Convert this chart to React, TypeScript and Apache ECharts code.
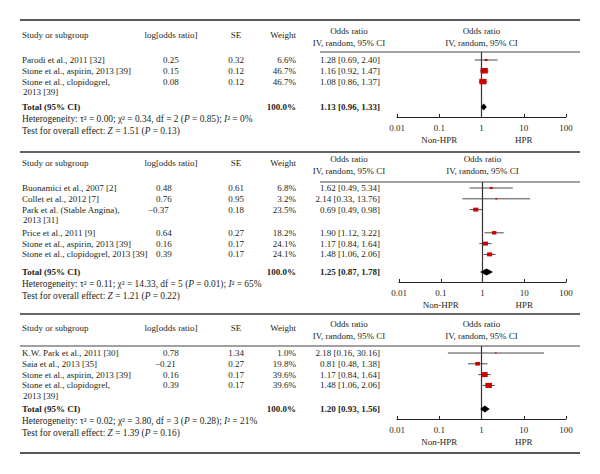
import React, { useEffect, useRef } from "react";
import * as echarts from "echarts";

const FONT = '"Liberation Serif", "Times New Roman", serif';
const FS = 9;
const FS_NOTE = 9.4;
const TEXT = "#231f20";
const RED = "#cc0000";

// ---------- Panel 1 ----------
const p1Names = ["Parodi et al., 2011 [32]", "Stone et al., aspirin, 2013 [39]", "Stone et al., clopidogrel,\n2013 [39]"];
const p1LogOR = [0.25, 0.15, 0.08];
const p1SE = [0.32, 0.12, 0.12];
const p1Weight = [6.6, 46.7, 46.7];
const p1OR = [1.28, 1.16, 1.08];
const p1Lower = [0.69, 0.92, 0.86];
const p1Upper = [2.4, 1.47, 1.37];
const p1Total = [1.13, 0.96, 1.33];
const p1Het = [0.0, 0.34, 2, 0.85, 0]; // tau2, chi2, df, P, I2
const p1Effect = [1.51, 0.13]; // Z, P

// ---------- Panel 2 ----------
const p2Names = [
  "Buonamici et al., 2007 [2]",
  "Collet et al., 2012 [7]",
  "Park et al. (Stable Angina),\n2013 [31]",
  "Price et al., 2011 [9]",
  "Stone et al., aspirin, 2013 [39]",
  "Stone et al., clopidogrel, 2013 [39]",
];
const p2LogOR = [0.48, 0.76, -0.37, 0.64, 0.16, 0.39];
const p2SE = [0.61, 0.95, 0.18, 0.27, 0.17, 0.17];
const p2Weight = [6.8, 3.2, 23.5, 18.2, 24.1, 24.1];
const p2OR = [1.62, 2.14, 0.69, 1.9, 1.17, 1.48];
const p2Lower = [0.49, 0.33, 0.49, 1.12, 0.84, 1.06];
const p2Upper = [5.34, 13.76, 0.98, 3.22, 1.64, 2.06];
const p2Total = [1.25, 0.87, 1.78];
const p2Het = [0.11, 14.33, 5, 0.01, 65];
const p2Effect = [1.21, 0.22];

// ---------- Panel 3 ----------
const p3Names = [
  "K.W. Park et al., 2011 [30]",
  "Saia et al., 2013 [35]",
  "Stone et al., aspirin, 2013 [39]",
  "Stone et al., clopidogrel,\n2013 [39]",
];
const p3LogOR = [0.78, -0.21, 0.16, 0.39];
const p3SE = [1.34, 0.27, 0.17, 0.17];
const p3Weight = [1.0, 19.8, 39.6, 39.6];
const p3OR = [2.18, 0.81, 1.17, 1.48];
const p3Lower = [0.16, 0.48, 0.84, 1.06];
const p3Upper = [30.16, 1.38, 1.64, 2.06];
const p3Total = [1.2, 0.93, 1.56];
const p3Het = [0.02, 3.8, 3, 0.28, 21];
const p3Effect = [1.39, 0.16];

const headers = ["Study or subgroup", "log[odds ratio]", "SE", "Weight"];
const orHeader = ["Odds ratio", "IV, random, 95% CI"];
const totalLabel = "Total (95% CI)";
const totalWeight = "100.0%";
const tickLabels = ["0.01", "0.1", "1", "10", "100"];
const sideLabels = ["Non-HPR", "HPR"];

const panels = [
  { names: p1Names, logOR: p1LogOR, se: p1SE, weight: p1Weight, or: p1OR, lo: p1Lower, hi: p1Upper, total: p1Total, het: p1Het, effect: p1Effect },
  { names: p2Names, logOR: p2LogOR, se: p2SE, weight: p2Weight, or: p2OR, lo: p2Lower, hi: p2Upper, total: p2Total, het: p2Het, effect: p2Effect },
  { names: p3Names, logOR: p3LogOR, se: p3SE, weight: p3Weight, or: p3OR, lo: p3Lower, hi: p3Upper, total: p3Total, het: p3Het, effect: p3Effect },
];

// layout (pixels)
const layouts = [
  { hdrY: 31, lineY: 52, lineX0: 320, firstY: 60, totalY: 107, axisY: 117, bottomY: 152, axisLeft: 397, valX: 163 },
  { hdrY: 159, lineY: 182, lineX0: 320, firstY: 188, totalY: 272, axisY: 282, bottomY: 314, axisLeft: 399, valX: 156 },
  { hdrY: 324, lineY: 346, lineX0: 20, firstY: 353, totalY: 409, axisY: 419, bottomY: 453, axisLeft: 397, valX: 163 },
];
const LINE_H = 10.8;
const AXIS_RIGHT = 566;
const X0 = 20;
const X1 = 580;

const fmt = (v: number, d = 2) => (v < 0 ? "\u2212" + Math.abs(v).toFixed(d) : v.toFixed(d));

const txt = (text: string, x: number, y: number, align = "left", bold = false, extra: any = {}) => ({
  type: "text",
  x,
  y,
  silent: true,
  z: 10,
  style: {
    text,
    fill: TEXT,
    fontSize: FS,
    fontFamily: FONT,
    fontWeight: bold ? "bold" : "normal",
    textAlign: align,
    textVerticalAlign: "middle",
    ...extra,
  },
});

const hline = (x1: number, x2: number, y: number, w: number, color: string) => ({
  type: "line",
  silent: true,
  z: 5,
  shape: { x1, y1: y, x2, y2: y },
  style: { stroke: color, lineWidth: w },
});

const noteStyle = {
  fontSize: FS_NOTE,
  rich: { i: { fontStyle: "italic", fontSize: FS_NOTE, fontFamily: FONT, fill: TEXT } },
};

function rowYs(names: string[], firstY: number) {
  const ys: number[] = [];
  let y = firstY;
  names.forEach((n) => {
    ys.push(y);
    const lines = n.split("\n").length;
    y += lines * LINE_H + (lines > 1 ? 1.6 : 0);
  });
  return ys;
}

export default function App() {
  const ref = useRef<HTMLDivElement>(null);
  useEffect(() => {
    if (!ref.current) return;
    const chart = echarts.init(ref.current, undefined, { renderer: "svg" });
    const graphics: any[] = [];
    const grids: any[] = [];
    const xAxes: any[] = [];
    const yAxes: any[] = [];
    const series: any[] = [];

    graphics.push(hline(X0, X1, 20, 1.5, "#222"));

    panels.forEach((p, k) => {
      const L = layouts[k];
      const ys = rowYs(p.names, L.firstY);
      const axisCenter = (L.axisLeft + AXIS_RIGHT) / 2;
      const decade = (AXIS_RIGHT - L.axisLeft) / 4;

      // headers
      graphics.push(txt(headers[0], 22, L.hdrY + 4));
      graphics.push(txt(headers[1], 171, L.hdrY + 4, "center"));
      graphics.push(txt(headers[2], 236, L.hdrY + 4, "center"));
      graphics.push(txt(headers[3], 296, L.hdrY + 4, "right"));
      graphics.push(txt(orHeader[0], 349, L.hdrY, "center"));
      graphics.push(txt(orHeader[1], 349, L.hdrY + 11.5, "center"));
      graphics.push(txt(orHeader[0], axisCenter, L.hdrY, "center"));
      graphics.push(txt(orHeader[1], axisCenter, L.hdrY + 11.5, "center"));
      graphics.push(hline(L.lineX0, X1, L.lineY, 1.2, "#444"));
      graphics.push(hline(X0, X1, L.bottomY, k === 2 ? 1.5 : 2, k === 2 ? "#222" : "#666"));

      // rows
      p.names.forEach((name, i) => {
        const y = ys[i];
        name.split("\n").forEach((ln, j) => graphics.push(txt(ln, j > 0 ? 23 : 22, y + j * (LINE_H - 0.5))));
        const v = p.logOR[i];
        graphics.push(txt(fmt(v), v < 0 ? L.valX - 8 : L.valX, y));
        graphics.push(txt(fmt(p.se[i]), 236, y, "center"));
        graphics.push(txt(p.weight[i].toFixed(1) + "%", 296, y, "right"));
        graphics.push(txt(`${fmt(p.or[i])} [${fmt(p.lo[i])}, ${fmt(p.hi[i])}]`, 380, y, "right"));
      });

      // total
      graphics.push(txt(totalLabel, 22, L.totalY, "left", true));
      graphics.push(txt(totalWeight, 296, L.totalY, "right", true));
      graphics.push(txt(`${fmt(p.total[0])} [${fmt(p.total[1])}, ${fmt(p.total[2])}]`, 380, L.totalY, "right", true));

      const [tau2, chi2, df, ph, i2] = p.het;
      graphics.push(
        txt(
          `Heterogeneity: \u03c4\u00b2 = ${fmt(tau2)}; \u03c7\u00b2 = ${fmt(chi2)}, df = ${df} ({i|P} = ${fmt(ph)}); {i|I}\u00b2 = ${i2}%`,
          22,
          L.totalY + 11.5,
          "left",
          false,
          noteStyle
        )
      );
      graphics.push(
        txt(`Test for overall effect: {i|Z} = ${fmt(p.effect[0])} ({i|P} = ${fmt(p.effect[1])})`, 22, L.totalY + 23.5, "left", false, noteStyle)
      );

      graphics.push(txt(sideLabels[0], L.axisLeft + decade, L.axisY + 23, "center"));
      graphics.push(txt(sideLabels[1], L.axisLeft + 3 * decade, L.axisY + 23, "center"));

      grids.push({ left: L.axisLeft, width: AXIS_RIGHT - L.axisLeft, top: L.lineY, height: L.axisY - L.lineY, containLabel: false });
      xAxes.push({
        gridIndex: k,
        type: "log",
        logBase: 10,
        min: 0.01,
        max: 100,
        axisLine: { show: true, lineStyle: { color: "#222", width: 1 } },
        axisTick: { show: true, inside: true, length: 3, lineStyle: { color: "#222" } },
        minorTick: { show: false },
        splitLine: { show: false },
        axisLabel: {
          color: TEXT,
          fontSize: FS,
          fontFamily: FONT,
          margin: 6,
          formatter: (v: number) => tickLabels[Math.round(Math.log10(v)) + 2] ?? "",
        },
      });
      yAxes.push({ gridIndex: k, type: "value", min: L.lineY, max: L.axisY, inverse: true, show: false });

      // reference line at OR = 1
      series.push({
        type: "line",
        xAxisIndex: k,
        yAxisIndex: k,
        data: [
          [1, L.lineY],
          [1, L.axisY],
        ],
        symbol: "none",
        silent: true,
        lineStyle: { color: "#333", width: 1.2 },
        z: 1,
      });

      // studies
      series.push({
        type: "custom",
        xAxisIndex: k,
        yAxisIndex: k,
        encode: { x: [0, 1, 2], y: 3 },
        data: p.or.map((o, i) => [o, p.lo[i], p.hi[i], ys[i], p.weight[i]]),
        z: 3,
        renderItem: (params: any, api: any) => {
          const y = api.value(3);
          const pm = api.coord([api.value(0), y]);
          const pl = api.coord([api.value(1), y]);
          const pr = api.coord([api.value(2), y]);
          const s = Math.sqrt(api.value(4));
          const w = Math.max(1.6, s * 1.05);
          const h = Math.max(1.3, s * 0.8);
          return {
            type: "group",
            children: [
              { type: "line", shape: { x1: pl[0], y1: pm[1], x2: pr[0], y2: pm[1] }, style: { stroke: "#4a4a4a", lineWidth: 1 } },
              { type: "rect", shape: { x: pm[0] - w / 2, y: pm[1] - h / 2, width: w, height: h }, style: { fill: RED } },
            ],
          };
        },
      });

      // total diamond
      series.push({
        type: "custom",
        xAxisIndex: k,
        yAxisIndex: k,
        encode: { x: [0, 1, 2], y: 3 },
        data: [[p.total[0], p.total[1], p.total[2], L.totalY]],
        z: 4,
        renderItem: (params: any, api: any) => {
          const y = api.value(3);
          const pm = api.coord([api.value(0), y]);
          const pl = api.coord([api.value(1), y]);
          const pr = api.coord([api.value(2), y]);
          const hh = 3.6;
          return {
            type: "polygon",
            shape: { points: [[pl[0], pm[1]], [pm[0], pm[1] - hh], [pr[0], pm[1]], [pm[0], pm[1] + hh]] },
            style: { fill: "#000" },
          };
        },
      });
    });

    chart.setOption({
      animation: false,
      backgroundColor: "#fff",
      grid: grids,
      xAxis: xAxes,
      yAxis: yAxes,
      series,
      graphic: { elements: graphics },
    });
    return () => chart.dispose();
  }, []);
  return <div ref={ref} style={{ position: "fixed", left: 0, top: 0, width: 600, height: 474, background: "#fff" }} />;
}
